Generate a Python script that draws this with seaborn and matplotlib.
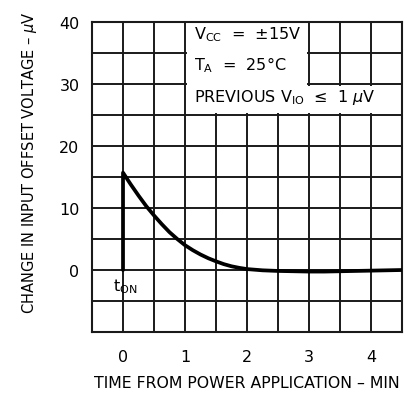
import matplotlib

matplotlib.use("Agg")
import matplotlib.pyplot as plt  # noqa: E402
import pandas as pd
import seaborn as sns
from matplotlib.patches import Rectangle

# time after power on (min) and change in offset voltage (uV)
time_min = [0.0, 0.0, 0.125, 0.25, 0.375, 0.5, 0.625, 0.75, 0.875, 1.0,
            1.125, 1.25, 1.375, 1.5, 1.625, 1.75, 1.875, 2.0, 2.25, 2.5,
            2.75, 3.0, 3.25, 3.5, 3.75, 4.0, 4.25, 4.5]
offset_uv = [0.0, 15.7, 13.8, 12.0, 10.3, 8.8, 7.4, 6.1, 5.0, 4.0,
             3.2, 2.5, 1.9, 1.4, 0.95, 0.6, 0.35, 0.15, -0.05, -0.15,
             -0.2, -0.25, -0.25, -0.2, -0.15, -0.1, -0.05, 0.0]

x_tick_values = [0, 1, 2, 3, 4]
y_tick_values = [0, 10, 20, 30, 40]

df = pd.DataFrame({"t": time_min, "dv": offset_uv})

sns.set_theme(style="white")
plt.rcParams["font.family"] = ["DejaVu Sans"]
plt.rcParams["text.color"] = "black"

fig = plt.figure(figsize=(4.19, 4.02), dpi=100)
ax = fig.add_axes([0.2196, 0.1716, 0.7398, 0.7712])

sns.lineplot(data=df, x="t", y="dv", sort=False, estimator=None,
             color="black", linewidth=2.7, ax=ax, zorder=3)

ax.set_xlim(-0.5, 4.5)
ax.set_ylim(-10, 40)
xt = [v * 0.5 for v in range(-1, 10)]
yt = list(range(-10, 41, 5))
ax.set_xticks(xt)
ax.set_yticks(yt)
ax.set_xticklabels([f"{v:g}" if v in x_tick_values else "" for v in xt])
ax.set_yticklabels([str(v) if v in y_tick_values else "" for v in yt])
ax.tick_params(axis="x", length=0, labelsize=11.5, colors="black", pad=12)
ax.tick_params(axis="y", length=0, labelsize=11.5, colors="black", pad=9)
ax.grid(True, color="#1a1a1a", linewidth=1.4)
ax.set_axisbelow(True)
for s in ax.spines.values():
    s.set_color("#1a1a1a")
    s.set_linewidth(1.5)

# white label area covering part of the grid
ax.add_patch(Rectangle((1.03, 25.25), 1.94, 14.75, facecolor="white",
                       edgecolor="none", zorder=1))
ax.add_patch(Rectangle((2.9, 25.25), 1.6, 4.5, facecolor="white",
                       edgecolor="none", zorder=1))

ax.text(1.15, 37.3, r"V$_{\mathregular{CC}}$  =  ±15V", fontsize=11.5, zorder=4)
ax.text(1.15, 32.3, r"T$_{\mathregular{A}}$  =  25°C", fontsize=11.5, zorder=4)
ax.text(1.15, 27.3, r"PREVIOUS V$_{\mathregular{IO}}$  ≤  1 $\mu$V", fontsize=11.5, zorder=4)
ax.text(0.03, -2.5, r"t$_{\mathregular{ON}}$", fontsize=11.5, ha="center",
        va="center", zorder=4)

ax.set_xlabel("TIME FROM POWER APPLICATION – MIN", fontsize=11.3, labelpad=8,
              color="black")
ax.set_ylabel(r"CHANGE IN INPUT OFFSET VOLTAGE – $\mu$V", fontsize=10.5,
              color="black")
ax.yaxis.set_label_coords(-0.172, 0.55)

fig.savefig("out.png", dpi=100)
plt.close(fig)
